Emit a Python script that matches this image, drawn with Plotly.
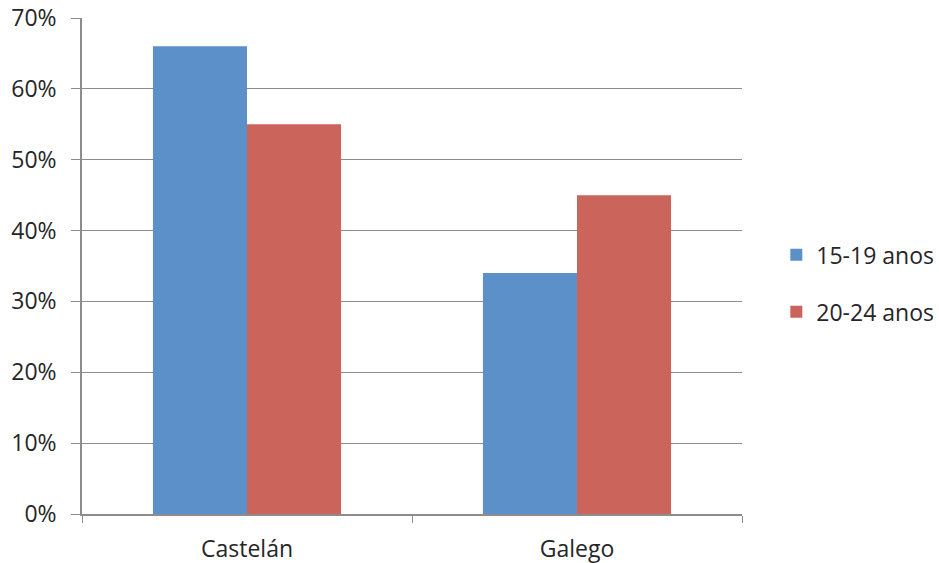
import plotly.graph_objects as go

categories = ["Castelán", "Galego"]
series_names = ["15-19 anos", "20-24 anos"]
values_15_19 = [0.66, 0.34]
values_20_24 = [0.55, 0.45]
colors = ["#5B90C8", "#CB655B"]

fig = go.Figure()
for name, vals, col in zip(series_names, [values_15_19, values_20_24], colors):
    fig.add_trace(go.Bar(
        x=categories, y=vals, name=name, legendgroup=name,
        marker=dict(color=col, line=dict(width=0)),
    ))

font_family = "Open Sans, Noto Sans, sans-serif"
fig.update_layout(
    width=939, height=563,
    margin=dict(l=82, r=197, t=18, b=49, autoexpand=False),
    paper_bgcolor="white", plot_bgcolor="white",
    barmode="group", bargap=0.43, bargroupgap=0,
    font=dict(family=font_family, size=23, color="#262626"),
    legend=dict(
        x=1.052, y=0.465, xanchor="left", yanchor="middle",
        traceorder="grouped", tracegroupgap=24,
        font=dict(size=23), itemwidth=30,
    ),
    xaxis=dict(
        automargin=False,
        showline=True, linecolor="#8C8C8C", linewidth=1.5,
        ticks="outside", tickson="boundaries", ticklen=7, tickcolor="#8C8C8C",
        ticklabelstandoff=14, showgrid=False,
    ),
    yaxis=dict(
        automargin=False,
        range=[0, 0.7], dtick=0.1, tickformat=".0%",
        showline=True, linecolor="#8C8C8C", linewidth=1.5,
        ticks="outside", ticklen=9, tickcolor="#8C8C8C",
        showgrid=True, gridcolor="#8C8C8C", gridwidth=1.2,
        ticklabelstandoff=10, zeroline=False,
    ),
)

fig.write_html("out.html")
